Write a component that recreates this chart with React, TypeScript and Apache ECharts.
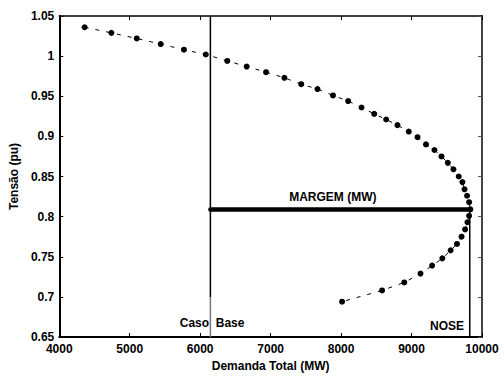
import React, { useEffect, useRef } from "react";
import * as echarts from "echarts";

const demand: number[] = [
  4360, 4740, 5100, 5440, 5770, 6080, 6385, 6660, 6935, 7195, 7435, 7665, 7885, 8100, 8290,
  8470, 8640, 8800, 8960, 9085, 9205, 9325, 9425, 9515, 9595, 9670, 9722, 9752, 9788, 9817,
  9835, 9817, 9793, 9760, 9710, 9645, 9555, 9437, 9292, 9127, 8897, 8582, 8014,
];
const voltage: number[] = [
  1.036, 1.029, 1.022, 1.015, 1.008, 1.002, 0.994, 0.987, 0.98, 0.973, 0.965, 0.959, 0.951,
  0.944, 0.936, 0.928, 0.921, 0.914, 0.906, 0.899, 0.89, 0.883, 0.875, 0.867, 0.859, 0.85,
  0.843, 0.834, 0.826, 0.818, 0.809, 0.801, 0.793, 0.784, 0.775, 0.766, 0.758, 0.748, 0.739,
  0.729, 0.718, 0.708, 0.694,
];

const baseCase = 6145;
const noseDemand = 9826;
const marginVoltage = 0.809;
const marginEnd = 9835;

const xMin = 4000;
const xMax = 10000;
const xStep = 1000;
const yMin = 0.65;
const yMax = 1.05;
const yStep = 0.05;

const annotationText = ["Caso  Base", "MARGEM (MW)", "NOSE"];
const annotationX = [6169, 7883, 9503];
const annotationY = [0.667, 0.824, 0.664];

const FONT = "Arial, 'Liberation Sans', sans-serif";

export default function App() {
  const ref = useRef<HTMLDivElement>(null);
  useEffect(() => {
    document.body.style.margin = "0";
    if (!ref.current) return;
    const chart = echarts.init(ref.current, undefined, { renderer: "svg" });
    const labelStyle = { color: "#000", fontWeight: "bold" as const, fontSize: 12, fontFamily: FONT };
    chart.setOption({
      animation: false,
      backgroundColor: "#fff",
      grid: { left: 56, right: 21, top: 16, bottom: 35 },
      xAxis: [
        {
          type: "value",
          min: xMin,
          max: xMax,
          interval: xStep,
          name: "Demanda Total (MW)",
          nameLocation: "middle",
          nameGap: 23,
          nameTextStyle: labelStyle,
          axisLine: { show: true, lineStyle: { color: "#000", width: 2 } },
          axisTick: { show: true, inside: true, length: 4, lineStyle: { color: "#000" } },
          axisLabel: { ...labelStyle, margin: 6, formatter: (v: number) => String(v) },
          splitLine: { show: false },
        },
        {
          type: "value",
          position: "top",
          min: xMin,
          max: xMax,
          interval: xStep,
          axisLine: { show: true, lineStyle: { color: "#000", width: 1.5 } },
          axisTick: { show: true, inside: true, length: 4, lineStyle: { color: "#000" } },
          axisLabel: { show: false },
          splitLine: { show: false },
        },
      ],
      yAxis: [
        {
          type: "value",
          min: yMin,
          max: yMax,
          interval: yStep,
          name: "Tensão (pu)",
          nameLocation: "middle",
          nameGap: 33,
          nameTextStyle: labelStyle,
          axisLine: { show: true, lineStyle: { color: "#000", width: 2 } },
          axisTick: { show: true, inside: true, length: 4, lineStyle: { color: "#000" } },
          axisLabel: { ...labelStyle, margin: 5 },
          splitLine: { show: false },
        },
        {
          type: "value",
          position: "right",
          min: yMin,
          max: yMax,
          interval: yStep,
          axisLine: { show: true, lineStyle: { color: "#444", width: 2 } },
          axisTick: { show: true, inside: true, length: 4, lineStyle: { color: "#555" } },
          axisLabel: { show: false },
          splitLine: { show: false },
        },
      ],
      series: [
        {
          type: "line",
          data: demand.map((d, i) => [d, voltage[i]]),
          symbol: "circle",
          symbolSize: 6,
          itemStyle: { color: "#000" },
          lineStyle: { color: "#000", width: 1, type: [4, 7] },
          z: 5,
        },
        {
          type: "line",
          data: [
            [baseCase, yMax],
            [baseCase, 0.7],
          ],
          symbol: "none",
          lineStyle: { color: "#000", width: 1.5 },
        },
        {
          type: "line",
          data: [
            [baseCase, 0.7],
            [baseCase, yMin],
          ],
          symbol: "none",
          lineStyle: { color: "#777", width: 1.5 },
        },
        {
          type: "line",
          data: [
            [noseDemand, marginVoltage],
            [noseDemand, yMin],
          ],
          symbol: "none",
          lineStyle: { color: "#000", width: 1.5 },
        },
        {
          type: "line",
          data: [
            [baseCase, marginVoltage],
            [marginEnd, marginVoltage],
          ],
          symbol: "none",
          lineStyle: { color: "#000", width: 4.5, cap: "round" },
          z: 4,
        },
        {
          type: "scatter",
          symbolSize: 0,
          silent: true,
          itemStyle: { color: "#000", opacity: 1 },
          data: annotationText.map((t, i) => ({ value: [annotationX[i], annotationY[i]], name: t })),
          label: {
            show: true,
            position: "inside",
            formatter: (p: any) => p.name,
            textBorderWidth: 0,
            textBorderColor: "transparent",
            opacity: 1,
            ...labelStyle,
          },
          z: 6,
        },
      ],
    });
    return () => chart.dispose();
  }, []);
  return <div ref={ref} style={{ width: 503, height: 377 }} />;
}
